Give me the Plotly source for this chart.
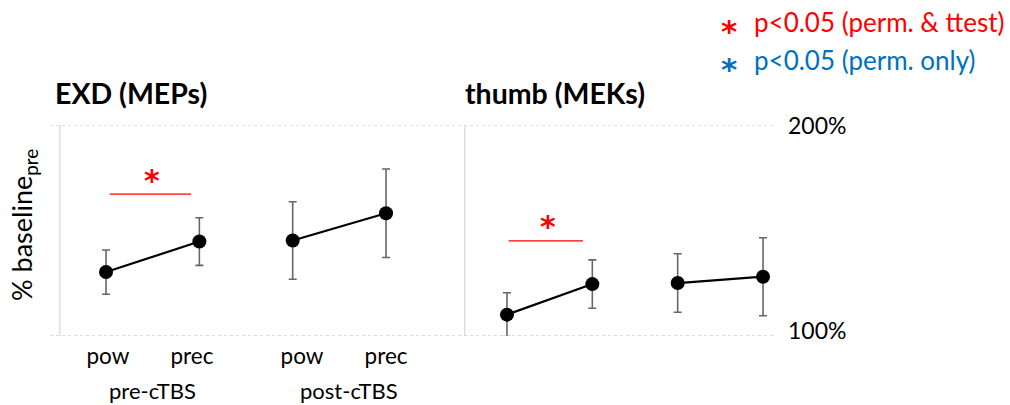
import plotly.graph_objects as go

# ---- data ----
conditions = ["pow", "prec", "pow", "prec"]
sessions = ["pre-cTBS", "post-cTBS"]
exd_mean = [130.2, 144.7, 145.2, 158.1]
exd_err = [10.5, 11.3, 18.4, 21.0]
thumb_mean = [110.0, 124.5, 125.0, 128.0]
thumb_err = [10.4, 11.5, 13.9, 18.5]
y_ticks = [100, 200]
y_tick_labels = ["100%", "200%"]
panel_titles = ["EXD (MEPs)", "thumb (MEKs)"]
legend_labels = ["p<0.05 (perm. & ttest)", "p<0.05 (perm. only)"]

FONT = "Lato"
STAR_FONT = "DejaVu Sans"
RED = "#FF0000"
BLUE = "#0070C0"
ERR = "#666666"

idx = list(range(len(conditions)))

fig = go.Figure()

def add_panel(mean, err, xa):
    for g in range(len(sessions)):
        sl = slice(2 * g, 2 * g + 2)
        fig.add_trace(go.Scatter(
            x=idx[sl], y=mean[sl], xaxis=xa, yaxis="y",
            mode="lines+markers",
            line=dict(color="black", width=2.2),
            marker=dict(color="black", size=14),
            error_y=dict(type="data", array=err[sl], visible=True,
                         color=ERR, thickness=1.6, width=4),
            showlegend=False, hoverinfo="skip"))

add_panel(exd_mean, exd_err, "x")
add_panel(thumb_mean, thumb_err, "x2")

shapes = []
# dashed reference lines
for v in y_ticks:
    shapes.append(dict(type="line", xref="paper", yref="y",
                       x0=50 / 1010, x1=776 / 1010, y0=v, y1=v,
                       line=dict(color="#c4c4c4", width=1, dash="3px,3px"), layer="below"))
# panel vertical axis lines
for xr in ["x", "x2"]:
    shapes.append(dict(type="line", xref=xr, yref="y", x0=-0.5, x1=-0.5,
                       y0=99.4, y1=203.8, line=dict(color="#cfcfcf", width=2), layer="below"))
# significance bars
shapes.append(dict(type="line", xref="x", yref="y", x0=0.04, x1=0.91, y0=167.2, y1=167.2,
                   line=dict(color=RED, width=1.3)))
shapes.append(dict(type="line", xref="x2", yref="y", x0=0.02, x1=0.89, y0=145.0, y1=145.0,
                   line=dict(color=RED, width=1.3)))

ann = []
# stars over sig bars
ann.append(dict(xref="x", yref="y", x=0.49, y=177.3, text="<b>*</b>", showarrow=False,
                font=dict(family=STAR_FONT, size=30, color=RED), yshift=-8))
ann.append(dict(xref="x2", yref="y", x=0.48, y=155.5, text="<b>*</b>", showarrow=False,
                font=dict(family=STAR_FONT, size=30, color=RED), yshift=-8))
# y tick labels (right side)
for v, t in zip(y_ticks, y_tick_labels):
    ann.append(dict(xref="paper", yref="y", x=786 / 1010, y=v, text=t, showarrow=False,
                    xanchor="left", yanchor="middle",
                    yshift=(0 if v == 200 else 6),
                    font=dict(family=FONT, size=23, color="black")))
# group labels
ann.append(dict(xref="x", yref="paper", x=0.5, y=1 - 390 / 405, text=sessions[0], showarrow=False,
                yanchor="middle", font=dict(family=FONT, size=22, color="black")))
ann.append(dict(xref="x", yref="paper", x=2.6, y=1 - 390 / 405, text=sessions[1], showarrow=False,
                yanchor="middle", font=dict(family=FONT, size=22, color="black")))
# panel titles
ann.append(dict(xref="paper", yref="paper", x=53 / 1010, y=1 - 93 / 405, text="<b>%s</b>" % panel_titles[0],
                showarrow=False, xanchor="left", yanchor="middle",
                font=dict(family=FONT, size=28.5, color="black")))
ann.append(dict(xref="paper", yref="paper", x=463 / 1010, y=1 - 93 / 405, text="<b>%s</b>" % panel_titles[1],
                showarrow=False, xanchor="left", yanchor="middle",
                font=dict(family=FONT, size=28.5, color="black")))
# y title
ann.append(dict(xref="paper", yref="paper", x=23 / 1010, y=1 - 225 / 405,
                text="% baseline<sub>pre</sub>", textangle=-90, showarrow=False,
                xanchor="center", yanchor="middle",
                font=dict(family=FONT, size=27, color="black")))
# legend
for i, (lab, col) in enumerate(zip(legend_labels, [RED, BLUE])):
    yc = [22, 60][i]
    ann.append(dict(xref="paper", yref="paper", x=729 / 1010, y=1 - (yc + 9) / 405, text="<b>*</b>",
                    showarrow=False, xanchor="center", yanchor="middle",
                    font=dict(family=STAR_FONT, size=31, color=col)))
    ann.append(dict(xref="paper", yref="paper", x=752 / 1010, y=1 - yc / 405, text=lab,
                    showarrow=False, xanchor="left", yanchor="middle",
                    font=dict(family=FONT, size=26, color=col)))

fig.update_layout(
    width=1010, height=405,
    margin=dict(l=0, r=0, t=0, b=0),
    paper_bgcolor="white", plot_bgcolor="white",
    shapes=shapes, annotations=ann,
    xaxis=dict(domain=[59.35 / 1010, 432.7 / 1010], range=[-0.5, 3.5],
               tickvals=[0.02, 0.92, 2.1, 3.0], ticktext=conditions,
               showgrid=False, zeroline=False, showline=False, ticks="",
               ticklabelstandoff=5,
               tickfont=dict(family=FONT, size=22.5, color="black"), anchor="y"),
    xaxis2=dict(domain=[464.3 / 1010, 805.7 / 1010], range=[-0.5, 3.5],
                showticklabels=False, showgrid=False, zeroline=False, showline=False,
                ticks="", anchor="y"),
    yaxis=dict(domain=[69.3 / 405, 280 / 405], range=[100, 200],
               showgrid=False, zeroline=False, showline=False, showticklabels=False,
               ticks=""),
)

fig.write_html("out.html")
